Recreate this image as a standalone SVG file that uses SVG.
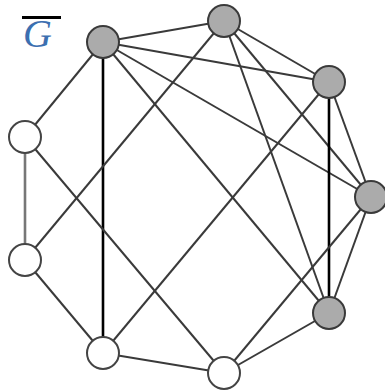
<svg xmlns="http://www.w3.org/2000/svg" width="385" height="391" viewBox="0 0 385 391">
<style>
.e{stroke:#3a3a3a;stroke-width:2;fill:none}
.v{stroke:#000;stroke-width:2.6}
.g{stroke:#777;stroke-width:2.6}
.gn{fill:#ababab;stroke:#3a3a3a;stroke-width:2}
.wn{fill:#fff;stroke:#444;stroke-width:2}
.lbl{font-family:"Liberation Serif","DejaVu Serif",serif;font-style:italic;font-size:40px;fill:#3c6fb0}
</style>
<rect width="385" height="391" fill="#fff"/>
<g id="label">
<line x1="22" y1="17.5" x2="61" y2="17.5" stroke="#000" stroke-width="3"/>
<text class="lbl" x="23" y="47">G</text>
</g>
<g id="connectors">
<line class="e" x1="103" y1="42" x2="224" y2="21"/>
<line class="e" x1="103" y1="42" x2="329" y2="82"/>
<line class="e" x1="103" y1="42" x2="371" y2="197"/>
<line class="e" x1="103" y1="42" x2="329" y2="313"/>
<line class="v" x1="103" y1="42" x2="103" y2="353"/>
<line class="e" x1="103" y1="42" x2="25" y2="137"/>
<line class="e" x1="224" y1="21" x2="329" y2="82"/>
<line class="e" x1="224" y1="21" x2="371" y2="197"/>
<line class="e" x1="224" y1="21" x2="329" y2="313"/>
<line class="e" x1="224" y1="21" x2="25" y2="260"/>
<line class="e" x1="329" y1="82" x2="371" y2="197"/>
<line class="v" x1="329" y1="82" x2="329" y2="313"/>
<line class="e" x1="329" y1="82" x2="103" y2="353"/>
<line class="e" x1="371" y1="197" x2="329" y2="313"/>
<line class="e" x1="371" y1="197" x2="224" y2="373"/>
<line class="e" x1="329" y1="313" x2="224" y2="373"/>
<line class="e" x1="224" y1="373" x2="103" y2="353"/>
<line class="e" x1="224" y1="373" x2="25" y2="137"/>
<line class="e" x1="103" y1="353" x2="25" y2="260"/>
<line class="g" x1="25" y1="260" x2="25" y2="137"/>
</g>
<g id="nA"><circle class="gn" cx="103" cy="42" r="16"/></g>
<g id="nB"><circle class="gn" cx="224" cy="21" r="16"/></g>
<g id="nC"><circle class="gn" cx="329" cy="82" r="16"/></g>
<g id="nD"><circle class="gn" cx="371" cy="197" r="16"/></g>
<g id="nE"><circle class="gn" cx="329" cy="313" r="16"/></g>
<g id="nF"><circle class="wn" cx="224" cy="373" r="16"/></g>
<g id="nG"><circle class="wn" cx="103" cy="353" r="16"/></g>
<g id="nH"><circle class="wn" cx="25" cy="260" r="16"/></g>
<g id="nI"><circle class="wn" cx="25" cy="137" r="16"/></g>
</svg>
